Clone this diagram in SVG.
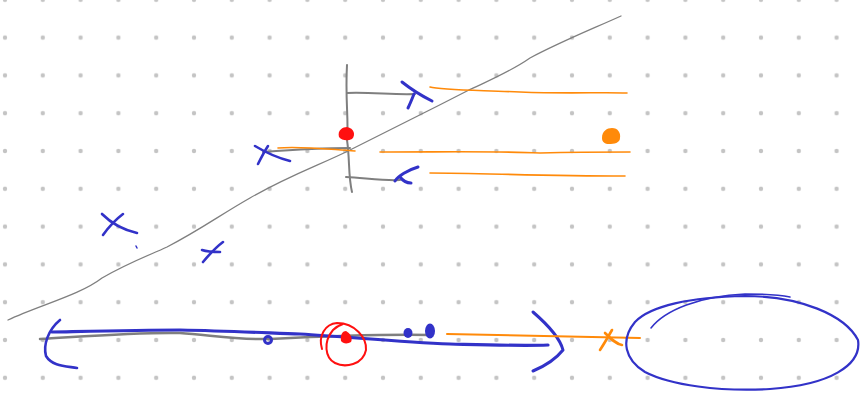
<svg xmlns="http://www.w3.org/2000/svg" width="860" height="395" viewBox="0 0 860 395">
<defs>
<pattern id="dots" x="-13.9" y="18.7" width="37.8" height="37.8" patternUnits="userSpaceOnUse">
<circle cx="18.9" cy="18.9" r="2.2" fill="#c4c4c4"/>
</pattern>
</defs>
<style>
.g{fill:none;stroke:#7f7f7f;stroke-linecap:round;stroke-linejoin:round}
.b{fill:none;stroke:#3232c8;stroke-linecap:round;stroke-linejoin:round}
.o{fill:none;stroke:#ff8a0a;stroke-linecap:round;stroke-linejoin:round}
.r{fill:none;stroke:#ff1010;stroke-linecap:round;stroke-linejoin:round}
.rf{fill:#ff1010;stroke:none}
</style>
<rect width="860" height="395" fill="#ffffff"/>
<rect width="860" height="395" fill="url(#dots)"/>
<g id="diagonal">
<path class="g" stroke-width="1.3" d="M8,320 C40,305 80,295 102,278 C130,262 150,255 167,247 C200,230 220,215 250,198 C290,175 320,165 350,150 C400,125 430,110 467,91 C490,80 510,72 530,58 C560,42 590,30 621,16"/>
</g>
<g id="bracket">
<path class="g" stroke-width="2" d="M347,65 C345,100 349,120 347,140 C350,160 348,175 352,192"/>
<path class="g" stroke-width="2" d="M347,93 C370,92 395,95 415,94"/>
<path class="g" stroke-width="2" d="M346,177 C365,178 385,181 400,180"/>
<path class="g" stroke-width="2" d="M263,152 C290,150 320,148 350,148"/>
<path class="b" stroke-width="3" d="M402,82 C412,90 422,96 432,101"/>
<path class="b" stroke-width="3" d="M414,94 C412,99 410,104 408,108"/>
<path class="b" stroke-width="3" d="M418,167 C408,170 398,176 395,181"/>
<path class="b" stroke-width="3" d="M400,177 C403,181 407,183 411,183"/>
<path class="b" stroke-width="2.6" d="M255,146 C265,152 278,158 290,161"/>
<path class="b" stroke-width="2.6" d="M268,146 C264,152 261,158 258,164"/>
<path class="rf" d="M339,137 C337,130 343,127 347,127 C354,128 356,135 352,139 C348,141 342,141 339,137 Z"/>
</g>
<g id="orange-lines">
<path class="o" stroke-width="1.6" d="M278,148 C300,146 325,149 355,151"/>
<path class="o" stroke-width="1.6" d="M430,87 C440,90 470,90 520,92 C570,94 600,92 627,93"/>
<path class="o" stroke-width="1.6" d="M380,152 C450,152 500,151 540,153 C580,152 610,152 630,152"/>
<path class="o" stroke-width="1.6" d="M430,173 C480,173 540,176 625,176"/>
<path fill="#ff8a0a" d="M602,138 C602,131 607,128 612,128 C618,128 621,133 620,138 C620,143 614,144 609,144 C605,144 602,142 602,138 Z"/>
</g>
<g id="crosses">
<path class="b" stroke-width="2.6" d="M102,214 C112,224 124,230 137,233"/>
<path class="b" stroke-width="2.6" d="M123,214 C115,220 108,228 103,235"/>
<path class="b" stroke-width="1.5" d="M136,246 L137,248"/>
<path class="b" stroke-width="2.6" d="M202,250 C208,252 214,252 220,252"/>
<path class="b" stroke-width="2.6" d="M223,242 C215,248 208,256 203,262"/>
</g>
<g id="timeline">
<path class="g" stroke-width="2.5" d="M40,339 C90,336 140,332 180,333 C210,335 240,340 270,339 C310,337 370,334 430,335"/>
<path class="b" stroke-width="3.2" d="M52,332 C100,331 140,330 180,330 C230,331 270,333 300,334 C350,337 400,342 450,344 C490,345 520,346 548,345"/>
<path class="b" stroke-width="2.6" d="M60,320 C48,330 43,345 46,356 C52,366 65,366 77,368"/>
<path class="b" stroke-width="3" d="M533,312 C548,325 560,338 563,350 C555,360 545,366 533,371"/>
<circle cx="268" cy="340" r="3.5" fill="none" stroke="#3232c8" stroke-width="3"/>
<ellipse cx="408" cy="333" rx="4.5" ry="5" fill="#3232c8"/>
<ellipse cx="430" cy="331" rx="5" ry="7.5" fill="#3232c8"/>
<path class="rf" d="M341,341 C340,334 343,331 346,331 C350,333 353,338 351,342 C348,344 343,344 341,341 Z"/>
<path class="r" stroke-width="2" d="M322,349 C318,336 325,324 337,323 C355,323 367,338 366,350 C363,365 345,368 335,363 C325,358 323,342 333,330 C336,327 340,325 343,324"/>
</g>
<g id="result">
<path class="o" stroke-width="2" d="M447,334 C500,335 560,336 640,338"/>
<path class="o" stroke-width="2.6" d="M600,350 C604,344 608,337 612,330"/>
<path class="o" stroke-width="2.6" d="M605,333 C611,339 616,344 622,345"/>
<path class="b" stroke-width="2.2" d="M745,296 C800,296 845,315 858,340 C862,365 830,385 770,389 C720,392 670,385 645,372 C625,360 620,340 635,322 C650,306 690,297 745,296 Z"/>
<path class="b" stroke-width="1.5" d="M651,328 C665,310 700,296 745,294 C765,294 780,295 790,297"/>
</g>
</svg>
